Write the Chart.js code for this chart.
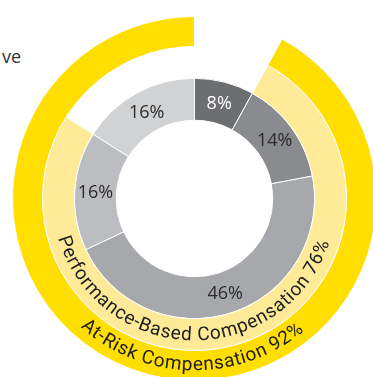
<!DOCTYPE html>
<html>
<head>
<meta charset="utf-8">
<script src="https://cdn.jsdelivr.net/npm/chart.js@4"></script>
<style>
  html, body { margin: 0; padding: 0; overflow: hidden; background: #fff; }
  body { width: 373px; height: 377px; position: relative; }
  #clip { position: absolute; left: 2px; top: 44px; font: 18px 'Open Sans', sans-serif; color: #333; }
  #wrap { position: absolute; left: 12px; top: 16px; width: 365px; height: 365px; }
</style>
</head>
<body>
<div id="clip">ve</div>
<div id="wrap"><canvas id="chart"></canvas></div>
<script>
// pay mix (inner ring), clockwise from 12 o'clock
const mixLabels = ['8%', '14%', '46%', '16%', '16%'];
const mixValues = [8, 14, 46, 16, 16];
const mixColors = ['#6d6e71', '#8a8b8e', '#a7a8ab', '#bcbdc0', '#d1d2d4'];
const mixTextColors = ['#ffffff', '#2b2b2b', '#2b2b2b', '#2b2b2b', '#2b2b2b'];

// outer rings
const performanceBased = 76;
const atRisk = 92;
const performanceLabel = 'Performance-Based Compensation 76%';
const atRiskLabel = 'At-Risk Compensation 92%';

// inner percentage labels
const mixLabelPlugin = {
  id: 'mixLabels',
  afterDatasetsDraw(chart) {
    const ctx = chart.ctx;
    const meta = chart.getDatasetMeta(2);
    ctx.save();
    ctx.font = '18px "Open Sans", sans-serif';
    ctx.textAlign = 'center';
    ctx.textBaseline = 'middle';
    meta.data.forEach((arc, i) => {
      const p = arc.tooltipPosition();
      ctx.fillStyle = mixTextColors[i];
      ctx.fillText(mixLabels[i], p.x, p.y + 1);
    });
    ctx.restore();
  }
};

// text bent along the bottom of a ring
function drawArcText(ctx, text, cx, cy, r, midAngle, spacing) {
  const widths = [...text].map(ch => ctx.measureText(ch).width + spacing);
  const total = widths.reduce((a, b) => a + b, 0) - spacing;
  let angle = midAngle + total / 2 / r;
  [...text].forEach((ch, i) => {
    const w = widths[i] - spacing;
    const a = angle - (w / 2) / r;
    ctx.save();
    ctx.translate(cx + r * Math.cos(a), cy + r * Math.sin(a));
    ctx.rotate(a - Math.PI / 2);
    ctx.fillText(ch, 0, 0);
    ctx.restore();
    angle -= widths[i] / r;
  });
}

const ringTextPlugin = {
  id: 'ringText',
  afterDatasetsDraw(chart) {
    const ctx = chart.ctx;
    const outer = chart.getDatasetMeta(0);
    const middle = chart.getDatasetMeta(1);
    const arc = outer.data[1];
    const cx = arc.x, cy = arc.y;
    ctx.save();
    ctx.font = '19px Roboto, sans-serif';
    ctx.fillStyle = '#1e1e1e';
    ctx.textAlign = 'center';
    ctx.textBaseline = 'middle';
    const rMid = (middle.controller.innerRadius + middle.controller.outerRadius) / 2;
    const rOut = (outer.controller.innerRadius + outer.controller.outerRadius) / 2;
    drawArcText(ctx, performanceLabel, cx, cy, rMid + 1, Math.PI * 91 / 180, 0.4);
    drawArcText(ctx, atRiskLabel, cx, cy, rOut, Math.PI * 91 / 180, 0.4);
    ctx.restore();
  }
};

new Chart(document.getElementById('chart'), {
  type: 'doughnut',
  data: {
    datasets: [
      {
        data: [100 - atRisk, atRisk],
        backgroundColor: ['rgba(0,0,0,0)', '#ffde00'],
        borderColor: ['rgba(0,0,0,0)', '#ffffff'],
        borderWidth: [0, 1],
        weight: 30
      },
      {
        data: [mixValues[0], performanceBased, 100 - mixValues[0] - performanceBased],
        backgroundColor: ['rgba(0,0,0,0)', '#ffea98', 'rgba(0,0,0,0)'],
        borderColor: ['rgba(0,0,0,0)', '#ffffff', 'rgba(0,0,0,0)'],
        borderWidth: [0, 1, 0],
        weight: 32
      },
      {
        data: mixValues,
        backgroundColor: mixColors,
        borderColor: '#ffffff',
        borderWidth: 1,
        weight: 42
      }
    ]
  },
  options: {
    responsive: true,
    maintainAspectRatio: false,
    animation: false,
    cutout: '43%',
    layout: { padding: 0 },
    plugins: {
      legend: { display: false },
      tooltip: { enabled: false }
    }
  },
  plugins: [mixLabelPlugin, ringTextPlugin]
});
</script>
</body>
</html>
